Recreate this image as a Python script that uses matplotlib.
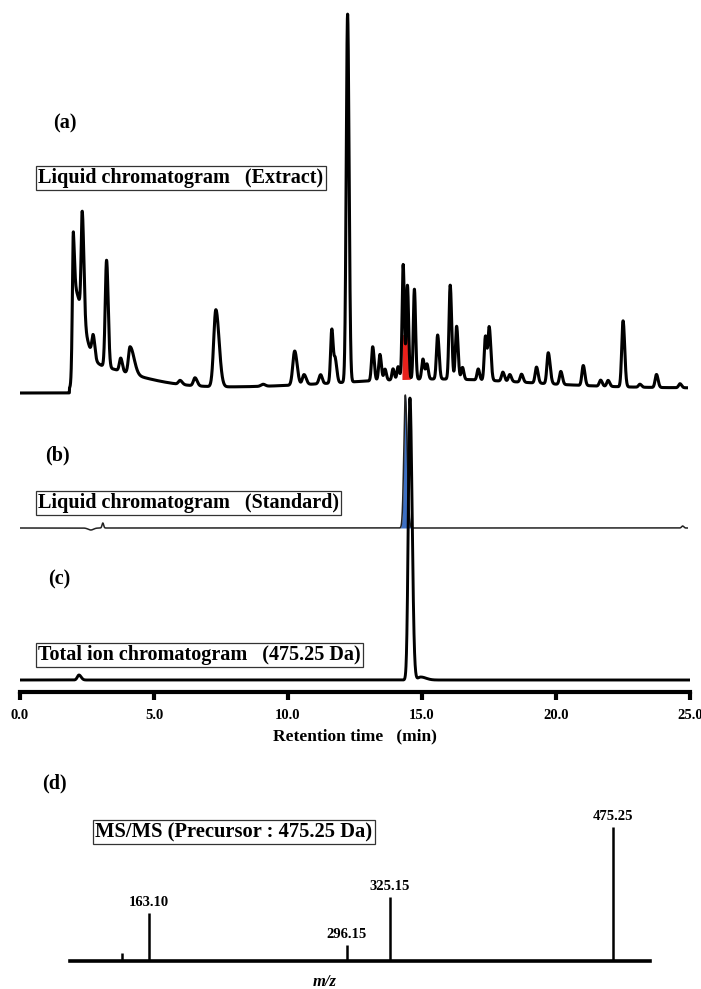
import numpy as np
import matplotlib
matplotlib.use('Agg')
from matplotlib import pyplot as plt

# --- chromatogram (a) : extrait, pics (centre min, hauteur, sigma gauche, sigma droite)
a_peaks_t = [1.98, 2.33, 2.74, 3.24, 3.77, 4.12, 5.99, 6.55, 7.33, 9.10, 10.28, 10.63,
             11.25, 11.67, 11.80, 12.26, 13.20, 13.47, 13.66, 13.96, 14.15, 14.34,
             14.50, 14.76, 15.08, 15.23, 15.63, 16.10, 16.34, 16.56, 17.15, 17.42,
             17.56, 18.07, 18.33, 18.77, 19.33, 19.77, 20.24, 21.08, 21.73, 22.01,
             22.57, 23.20, 23.82, 24.70]
a_peaks_h = [60, 104, 22, 107, 13, 27, 4, 8, 77, 2, 34, 10,
             9, 54, 22, 368, 34, 26, 11, 11, 13, 115,
             94, 90, 20, 15, 44, 94, 53, 12, 11, 44,
             53, 9, 7, 8, 16, 31, 13, 20, 6, 6,
             66, 3, 13, 4]
a_peaks_sl = [0.04, 0.04, 0.05, 0.05, 0.05, 0.06, 0.06, 0.06, 0.08, 0.08, 0.07, 0.06,
              0.06, 0.045, 0.04, 0.05, 0.045, 0.045, 0.04, 0.04, 0.04, 0.04,
              0.04, 0.04, 0.045, 0.045, 0.045, 0.045, 0.045, 0.045, 0.045, 0.045,
              0.045, 0.05, 0.05, 0.05, 0.05, 0.05, 0.05, 0.05, 0.05, 0.05,
              0.05, 0.05, 0.05, 0.05]
a_peaks_sr = [0.05, 0.06, 0.06, 0.06, 0.06, 0.15, 0.08, 0.08, 0.12, 0.08, 0.09, 0.08,
              0.06, 0.055, 0.06, 0.055, 0.055, 0.055, 0.05, 0.05, 0.05, 0.045,
              0.045, 0.045, 0.05, 0.05, 0.055, 0.055, 0.055, 0.05, 0.05, 0.05,
              0.06, 0.06, 0.06, 0.06, 0.06, 0.07, 0.06, 0.06, 0.06, 0.06,
              0.06, 0.06, 0.06, 0.06]
# composantes larges (front de solvant + derive de ligne de base)
a_broad_t = [2.0, 2.0, 15.5]
a_broad_h = [75, 25, 9]
a_broad_sl = [0.03, 0.03, 3.5]
a_broad_sr = [0.35, 2.0, 3.5]
a_front_t = 1.85
a_pre_front = -5
# zone rouge (composé cible)
a_red_t = 14.44
a_red_h = 90
a_red_s = 0.1
a_red_cap = 45
a_red_window = (14.29, 14.61)

# --- chromatogram (b) : standard
b_peaks_t = [2.65, 3.10, 14.42, 24.80]
b_peaks_h = [-2, 5, 133, 2]
b_peaks_sl = [0.10, 0.03, 0.055, 0.04]
b_peaks_sr = [0.10, 0.03, 0.07, 0.04]
b_blue_window = (14.15, 14.8)

# --- TIC (c) 475.25 Da
c_peaks_t = [2.20, 14.55, 14.95]
c_peaks_h = [5, 282, 3]
c_peaks_sl = [0.06, 0.06, 0.10]
c_peaks_sr = [0.08, 0.08, 0.20]

# --- MS/MS (d)
ms_mz = [145.0, 163.10, 296.15, 325.15, 475.25]
ms_int = [8, 48, 16, 64, 134]
ms_labels = ['', '163.10', '296.15', '325.15', '475.25']

W, H = 701, 989
plt.rcParams['font.family'] = ['Liberation Serif', 'DejaVu Serif']
plt.rcParams['font.weight'] = 'bold'


def bigauss(t, c, h, sl, sr):
    s = np.where(t < c, sl, sr)
    return h * np.exp(-(t - c) ** 2 / (2 * s ** 2))


def trace(t, cs, hs, sls, srs):
    y = np.zeros_like(t)
    for c, h, sl, sr in zip(cs, hs, sls, srs):
        y += bigauss(t, c, h, sl, sr)
    return y


def box(x0, y0, x1, y1):
    return [x0 / W, 1 - y1 / H, (x1 - x0) / W, (y1 - y0) / H]


t = np.linspace(0, 25, 6000)
base_a = trace(t, a_broad_t, a_broad_h, a_broad_sl, a_broad_sr)
base_a[t < a_front_t] += a_pre_front
y_a = base_a + trace(t, a_peaks_t, a_peaks_h, a_peaks_sl, a_peaks_sr)
y_b = trace(t, b_peaks_t, b_peaks_h, b_peaks_sl, b_peaks_sr)
y_c = trace(t, c_peaks_t, c_peaks_h, c_peaks_sl, c_peaks_sr)

fig = plt.figure(figsize=(W / 100, H / 100), dpi=100)

ax_a = fig.add_axes(box(20, 10, 688, 395))
ax_b = fig.add_axes(box(20, 392, 688, 536))
ax_c = fig.add_axes(box(20, 392, 690, 692))
ax_d = fig.add_axes(box(70, 800, 650, 961))

# (a)
m = (t >= a_red_window[0]) & (t <= a_red_window[1])
red = np.minimum(bigauss(t, a_red_t, a_red_h, a_red_s, a_red_s), a_red_cap)
ax_a.fill_between(t[m], base_a[m], base_a[m] + red[m], color='#e8211c', lw=0)
ax_a.plot(t, y_a, color='black', lw=2.2)
ax_a.set_xlim(0, 25)
ax_a.set_ylim(-7, 378)
ax_a.axis('off')

# (b)
m = (t >= b_blue_window[0]) & (t <= b_blue_window[1])
ax_b.fill_between(t[m], 0, y_b[m], color='#3d6fc2', lw=0)
ax_b.plot(t, y_b, color='#222222', lw=1.1)
ax_b.set_xlim(0, 25)
ax_b.set_ylim(-8, 136)
ax_b.axis('off')

# (c)
ax_c.patch.set_alpha(0)
ax_c.plot(t, y_c, color='black', lw=2.1)
ax_c.set_xlim(0, 25)
ax_c.set_ylim(-12, 288)
for s in ['top', 'left', 'right']:
    ax_c.spines[s].set_visible(False)
ax_c.spines['bottom'].set_linewidth(3)
ax_c.set_yticks([])
ax_c.set_xticks([0, 5, 10, 15, 20, 25])
ax_c.set_xticklabels(['0.0', '5.0', '10.0', '15.0', '20.0', '25.0'])
ax_c.tick_params(axis='x', length=6, width=3, labelsize=10.5, pad=6)
ax_c.set_xlabel('Retention time   (min)', fontsize=12.5, fontweight='bold', labelpad=5)

# (d)
ax_d.vlines(ms_mz, 0, ms_int, color='black', lw=1.8)
for mz, v, lab in zip(ms_mz, ms_int, ms_labels):
    if lab:
        ax_d.text(mz, v + 4, lab, ha='center', va='bottom', fontsize=10.5, fontweight='bold')
ax_d.set_xlim(110, 500)
ax_d.set_ylim(0, 161)
for s in ['top', 'left', 'right']:
    ax_d.spines[s].set_visible(False)
ax_d.spines['bottom'].set_linewidth(2.6)
ax_d.set_xticks([])
ax_d.set_yticks([])
ax_d.patch.set_alpha(0)

# etiquettes
def ftext(x, y, s, **kw):
    fig.text(x / W, 1 - y / H, s, **kw)

ftext(53, 123, '(a)', fontsize=14.5, fontweight='bold', va='center')
ftext(45, 455, '(b)', fontsize=14.5, fontweight='bold', va='center')
ftext(48, 579, '(c)', fontsize=14.5, fontweight='bold', va='center')
ftext(42, 783, '(d)', fontsize=14.5, fontweight='bold', va='center')

bb = dict(boxstyle='square,pad=0.12', fc='white', ec='#333333', lw=0.9)
ftext(38, 178, 'Liquid chromatogram   (Extract)', fontsize=14.5, fontweight='bold', va='center', bbox=bb)
ftext(38, 503, 'Liquid chromatogram   (Standard)', fontsize=14.5, fontweight='bold', va='center', bbox=bb)
ftext(38, 655, 'Total ion chromatogram   (475.25 Da)', fontsize=14.5, fontweight='bold', va='center', bbox=bb)
ftext(95, 832, 'MS/MS (Precursor : 475.25 Da)', fontsize=14.8, fontweight='bold', va='center', bbox=bb)
ftext(325, 982, 'm/z', fontsize=12, fontweight='bold', style='italic', ha='center', va='center')

fig.savefig('out.png', dpi=100)
